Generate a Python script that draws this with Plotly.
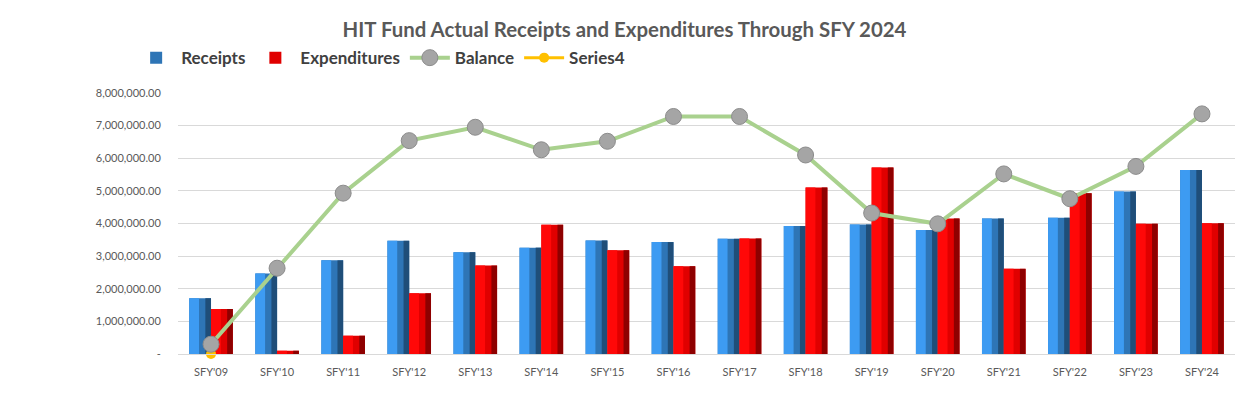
import plotly.graph_objects as go

categories = ["SFY'09", "SFY'10", "SFY'11", "SFY'12", "SFY'13", "SFY'14", "SFY'15", "SFY'16",
              "SFY'17", "SFY'18", "SFY'19", "SFY'20", "SFY'21", "SFY'22", "SFY'23", "SFY'24"]
receipts = [1.71e6, 2.47e6, 2.87e6, 3.47e6, 3.12e6, 3.26e6, 3.48e6, 3.43e6,
            3.53e6, 3.92e6, 3.97e6, 3.80e6, 4.15e6, 4.18e6, 4.98e6, 5.64e6]
expenditures = [1.38e6, 0.10e6, 0.56e6, 1.86e6, 2.71e6, 3.96e6, 3.18e6, 2.69e6,
                3.54e6, 5.10e6, 5.72e6, 4.15e6, 2.61e6, 4.93e6, 3.99e6, 4.01e6]
balance = [0.30e6, 2.63e6, 4.93e6, 6.54e6, 6.95e6, 6.26e6, 6.52e6, 7.28e6,
           7.28e6, 6.10e6, 4.32e6, 3.99e6, 5.52e6, 4.76e6, 5.75e6, 7.36e6]
series4 = [0] + [None] * 15
y_ticks = [0, 1e6, 2e6, 3e6, 4e6, 5e6, 6e6, 7e6, 8e6]
y_labels = ["-"] + [f"{v:,.2f}" for v in y_ticks[1:]]

W = 0.33
fig = go.Figure()


def add_bevel_bar(name, vals, start, base_col, segs):
    fig.add_trace(go.Bar(x=categories, y=vals, name=f"<b>{name}</b>", width=W, offset=start,
                         marker=dict(color=base_col, line=dict(width=0)), showlegend=True))
    for frac0, frac1, col in segs:
        fig.add_trace(go.Bar(x=categories, y=vals, width=W * (frac1 - frac0),
                             offset=start + W * frac0, marker=dict(color=col, line=dict(width=0)),
                             showlegend=False, hoverinfo="skip"))


add_bevel_bar("Receipts", receipts, -W, "#2E75B6",
              [(0.0, 0.45, "#3D9BF2"), (0.74, 1.0, "#1F4E79")])
add_bevel_bar("Expenditures", expenditures, 0.0, "#E00000",
              [(0.0, 0.45, "#FF0808"), (0.74, 1.0, "#8E0000")])

fig.add_trace(go.Scatter(x=categories, y=series4, name="<b>Series4</b>", mode="lines+markers",
                         line=dict(color="#FFC000", width=3), cliponaxis=False,
                         marker=dict(color="#FFC000", size=10), legendrank=4))
fig.add_trace(go.Scatter(x=categories, y=balance, name="<b>Balance</b>", mode="lines+markers",
                         line=dict(color="#A9D18E", width=4), cliponaxis=False,
                         marker=dict(color="#A5A5A5", size=16, line=dict(color="#8C8C8C", width=1)),
                         legendrank=3))
for i, tr in enumerate(fig.data[:6]):
    tr.legendrank = 1 if i < 3 else 2

fig.update_layout(
    width=1249, height=418,
    barmode="overlay",
    paper_bgcolor="white", plot_bgcolor="white",
    margin=dict(l=178, r=14, t=93, b=64, autoexpand=False),
    title=dict(text="<b>HIT Fund Actual Receipts and Expenditures Through SFY 2024</b>",
               x=0.5, xref="container", y=0.928, yref="container", xanchor="center", yanchor="middle",
               font=dict(family="Lato, Open Sans, sans-serif", size=20.4, color="#595959")),
    legend=dict(orientation="h", x=0.105, xref="container", y=0.861, yref="container",
                xanchor="left", yanchor="middle",
                font=dict(family="Lato, Open Sans, sans-serif", size=17, color="#404040"),
                itemwidth=40, traceorder="normal"),
    font=dict(family="Lato, Open Sans, sans-serif"),
)
fig.update_xaxes(showgrid=False, showline=True, linecolor="#D9D9D9", linewidth=1,
                 range=[-0.5, len(categories) - 0.5],
                 tickfont=dict(size=11, color="#595959"), ticks="outside", ticklen=8,
                 tickcolor="rgba(0,0,0,0)", automargin=False)
fig.update_yaxes(range=[0, 8e6], tickvals=y_ticks, ticktext=y_labels,
                 showgrid=True, gridcolor="#D9D9D9", gridwidth=1, zeroline=False,
                 tickfont=dict(size=11, color="#595959"), ticks="outside", ticklen=14,
                 tickcolor="rgba(0,0,0,0)", automargin=False)

fig.write_html("out.html", config={"displayModeBar": False},
               post_script="document.body.style.margin='0';")
